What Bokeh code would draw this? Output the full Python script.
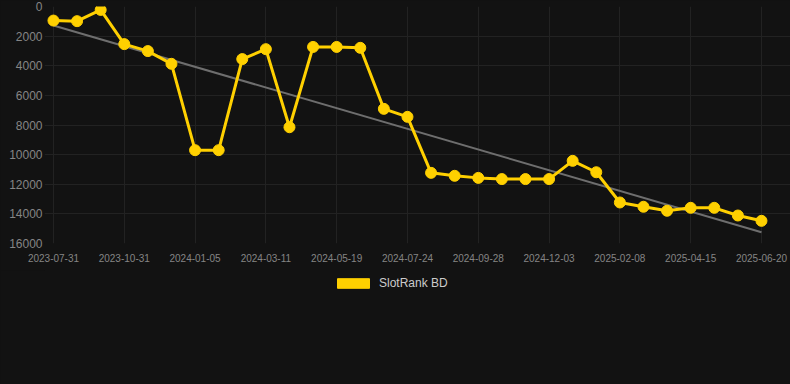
from bokeh.plotting import figure
from bokeh.layouts import column
from bokeh.models import Range1d, FixedTicker, ColumnDataSource, Legend, LegendItem
from bokeh.embed import file_html
from bokeh.resources import INLINE

# ---- data ----
ranks = [950, 990, 230, 2540, 3010, 3870, 9700, 9700, 3550, 2880,
         8150, 2730, 2730, 2790, 6910, 7450, 11230, 11430, 11570, 11650,
         11650, 11650, 10420, 11190, 13230, 13520, 13790, 13590, 13590, 14110,
         14470]
tick_idx = [0, 3, 6, 9, 12, 15, 18, 21, 24, 27, 30]
tick_labels = ["2023-07-31", "2023-10-31", "2024-01-05", "2024-03-11", "2024-05-19",
               "2024-07-24", "2024-09-28", "2024-12-03", "2025-02-08", "2025-04-15",
               "2025-06-20"]
trend_idx = [0, 30]
trend_vals = [1280, 15240]
y_ticks = [0, 2000, 4000, 6000, 8000, 10000, 12000, 14000, 16000]
series_name = "SlotRank BD"

BG = "#121212"
GOLD = "#FFD000"
FONT = "Liberation Sans"

src = ColumnDataSource(dict(x=list(range(len(ranks))), y=ranks))

p = figure(width=790, height=270, output_backend="svg", toolbar_location=None,
           x_range=Range1d(-0.38, 31.23), y_range=Range1d(16000, 0),
           background_fill_color=BG, border_fill_color=BG, outline_line_color=None,
           min_border_left=44, min_border_right=0, min_border_top=6, min_border_bottom=27)
p.styles = {"background-color": BG}

p.line(trend_idx, trend_vals, line_color="#6e6e6e", line_width=2)
p.line("x", "y", source=src, line_color=GOLD, line_width=3)
p.scatter("x", "y", source=src, size=11, fill_color=GOLD, line_color=GOLD)

for ax in (p.xaxis[0], p.yaxis[0]):
    ax.axis_line_color = None
    ax.major_tick_line_color = None
    ax.minor_tick_line_color = None
    ax.major_tick_out = 0
    ax.major_tick_in = 0
    ax.major_label_text_color = "#858585"
    ax.major_label_text_font = FONT

p.xaxis.ticker = FixedTicker(ticks=tick_idx)
p.xaxis.major_label_overrides = {i: l for i, l in zip(tick_idx, tick_labels)}
p.xaxis.major_label_text_font_size = "10px"
p.xaxis.major_label_standoff = 10

p.yaxis.ticker = FixedTicker(ticks=y_ticks)
p.yaxis.major_label_text_font_size = "12px"
p.yaxis.major_label_standoff = 2

p.xgrid.grid_line_color = "#222222"
p.ygrid.grid_line_color = "#222222"
p.xgrid.ticker = FixedTicker(ticks=tick_idx)

# ---- legend strip below the chart ----
p2 = figure(width=790, height=114, output_backend="svg", toolbar_location=None,
            x_range=Range1d(0, 1), y_range=Range1d(0, 1),
            x_axis_location=None, y_axis_location=None,
            background_fill_color=BG, border_fill_color=BG, outline_line_color=None,
            min_border=0)
p2.styles = {"background-color": BG}
p2.grid.visible = False
swatch = p2.rect(x=[-10], y=[-10], width=[1], height=[1], fill_color=GOLD, line_color=GOLD)

legend = Legend(items=[LegendItem(label=series_name, renderers=[swatch])],
                orientation="horizontal", location=(289, 94),
                glyph_width=40, glyph_height=12, label_height=12,
                label_text_color="#cccccc", label_text_font=FONT,
                label_text_font_size="12px", label_text_baseline="middle",
                background_fill_alpha=0, border_line_color=None,
                margin=0, padding=0, label_standoff=6, spacing=0)
p2.add_layout(legend, "center")

layout = column(p, p2, spacing=0)
layout.styles = {"background-color": BG}
open("out.html", "w").write(file_html(layout, INLINE))
